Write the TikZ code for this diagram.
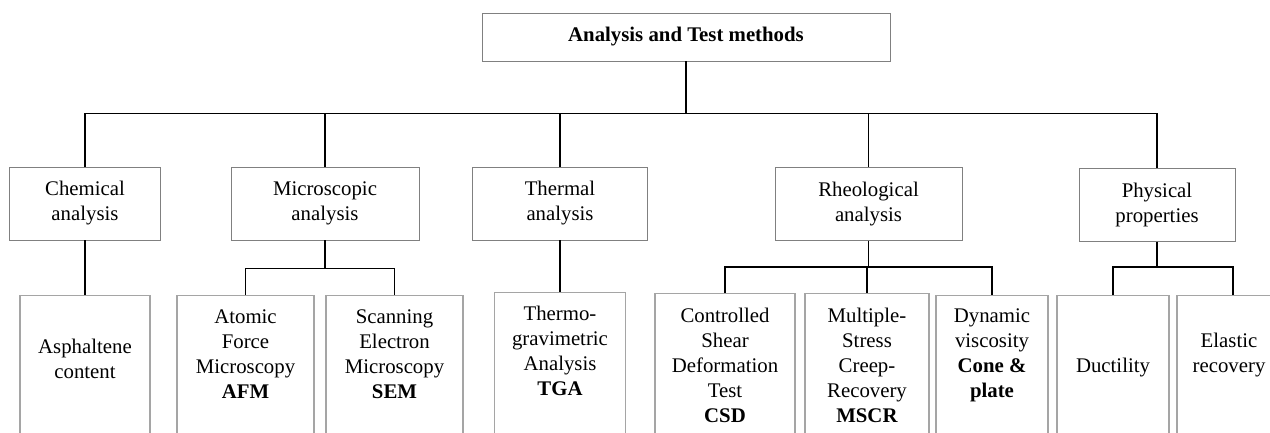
\documentclass[tikz,border=0pt]{standalone}
\usepackage{fontspec}
\setmainfont{Liberation Serif}
\definecolor{boxgray}{RGB}{128,128,128}
\definecolor{leafgray}{RGB}{165,165,165}

\begin{document}
\begin{tikzpicture}[x=0.75pt,y=-0.75pt,
  txt/.style={font=\fontsize{15.6pt}{18.75pt}\selectfont, align=center, inner sep=0pt},
  head/.style={txt, draw=boxgray, line width=0.7pt, minimum width=306pt, minimum height=36pt},
  group/.style={txt, draw=boxgray, line width=0.7pt, minimum height=54.75pt},
  frame/.style={draw=leafgray, line width=0.9pt, anchor=north, minimum height=150pt, inner sep=0pt},
  link/.style={line width=0.9pt}]
\useasboundingbox (0,0) rectangle (1270,432);
\clip (0,0) rectangle (1270,432);

\node[head] (top) at (686,37) {\textbf{Analysis and Test methods}};

% first level
\node[group, minimum width=113.25pt] (chem) at (85,203.5) {Chemical\\analysis};
\node[group, minimum width=141pt] (micro) at (325,203.5) {Microscopic\\analysis};
\node[group, minimum width=131.25pt] (therm) at (560,203.5) {Thermal\\analysis};
\node[group, minimum width=140.25pt] (rheo) at (868.5,204) {Rheological\\analysis};
\node[group, minimum width=117pt] (phys) at (1157,205) {Physical\\properties};

\foreach \n in {chem,micro,therm,rheo,phys}
  \draw[link] (top.south) -- ++(0,52) -| (\n.north);

% second level frames
\node[frame, minimum width=97.5pt] (asphbox) at (85,295) {};
\node[frame, minimum width=102.75pt] (afmbox) at (245.5,295) {};
\node[frame, minimum width=102.75pt] (sembox) at (394.5,295) {};
\node[frame, minimum width=98.25pt] (tgabox) at (560,292) {};
\node[frame, minimum width=105pt] (csdbox) at (725,293) {};
\node[frame, minimum width=93pt] (mscrbox) at (867,293) {};
\node[frame, minimum width=84pt] (conebox) at (992,295) {};
\node[frame, minimum width=84pt] (ductbox) at (1113,295) {};
\node[frame, minimum width=84pt] (elastbox) at (1233,295) {};

% second level texts
\node[txt, anchor=north] (asph) at (85,339) {Asphaltene\\content};
\node[txt, anchor=north] (afm) at (245.5,309) {Atomic\\Force\\Microscopy\\\textbf{AFM}};
\node[txt, anchor=north] (sem) at (394.5,309) {Scanning\\Electron\\Microscopy\\\textbf{SEM}};
\node[txt, anchor=north] (tga) at (560,306) {Thermo-\\gravimetric\\Analysis\\\textbf{TGA}};
\node[txt, anchor=north] (csd) at (725,308) {Controlled\\Shear\\Deformation\\Test\\\textbf{CSD}};
\node[txt, anchor=north] (mscr) at (867,308) {Multiple-\\Stress\\Creep-\\Recovery\\\textbf{MSCR}};
\node[txt, anchor=north] (cone) at (992,308) {Dynamic\\viscosity\\\textbf{Cone \&}\\\textbf{plate}};
\node[txt, anchor=north] (duct) at (1113,358) {Ductility};
\node[txt, anchor=north] (elast) at (1229,333) {Elastic\\recovery};

\draw[link] (chem.south) -- (asphbox.north);
\draw[link] (therm.south) -- (tgabox.north);
\foreach \n in {afmbox,sembox}
  \draw[link] (micro.south) -- ++(0,28) -| (\n.north);
\foreach \n in {csdbox,mscrbox,conebox}
  \draw[link] (rheo.south) -- ++(0,26) -| (\n.north);
\foreach \n in {ductbox,elastbox}
  \draw[link] (phys.south) -- ++(0,25) -| (\n.north);
\end{tikzpicture}
\end{document}
